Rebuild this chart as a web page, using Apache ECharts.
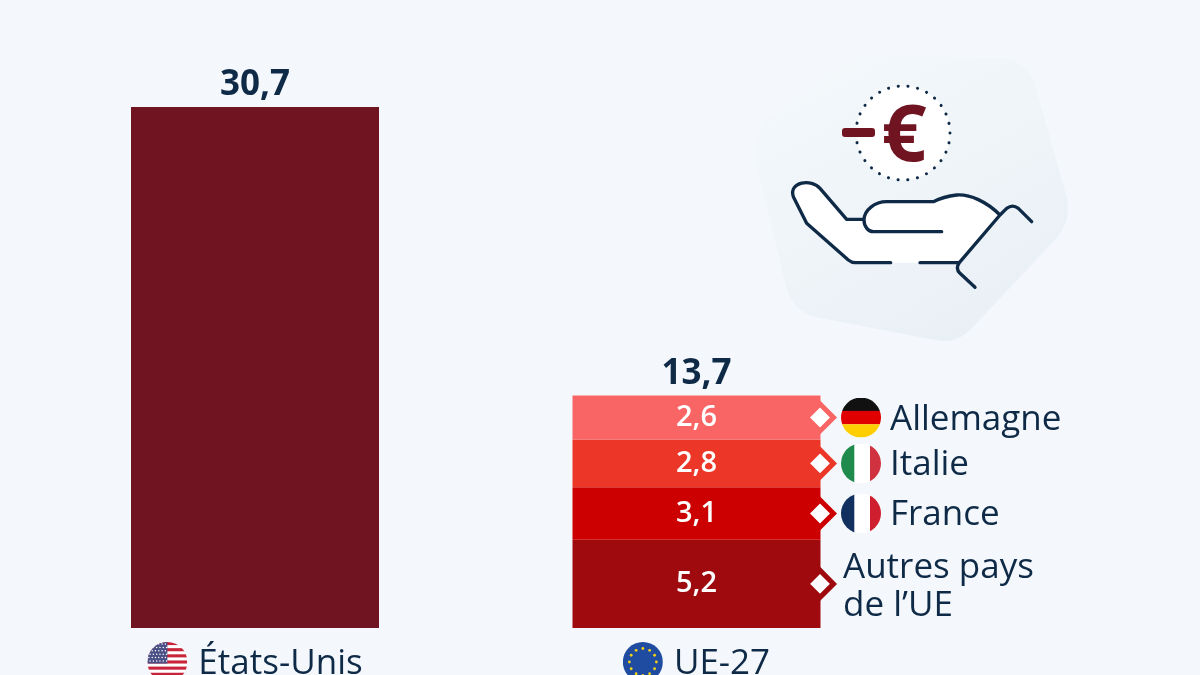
<!DOCTYPE html>
<html><head><meta charset="utf-8">
<style>html,body{margin:0;padding:0;background:#f4f8fc;overflow:hidden}#c{width:1200px;height:675px}</style>
<script src="https://cdn.jsdelivr.net/npm/echarts@6/dist/echarts.min.js"></script>
</head><body><div id="c"></div>
<script>
const categories = ['États-Unis', 'UE-27'];
const totals = [30.7, 13.7];
const usValues = [30.7, null];
const segmentNames = ['Autres pays\nde l’UE', 'France', 'Italie', 'Allemagne'];
const segmentValues = [5.2, 3.1, 2.8, 2.6];
const segmentColors = ['#9e0a0e', '#cc0000', '#ec3728', '#f96464'];

const ink = '#0f2a47';
const font = '"Open Sans"';
const fr = v => String(v).replace('.', ',');

function svg(body) {
  return 'data:image/svg+xml;charset=utf-8,' + encodeURIComponent(
    '<svg xmlns="http://www.w3.org/2000/svg" width="160" height="160" viewBox="0 0 40 40"><defs><clipPath id="k"><circle cx="20" cy="20" r="20"/></clipPath></defs><g clip-path="url(#k)">' + body + '</g></svg>');
}
function stars(cx, cy, r, n, size, col) {
  let s = '';
  for (let i = 0; i < n; i++) {
    const a = i / n * 2 * Math.PI;
    s += '<circle cx="' + (cx + r * Math.cos(a)) + '" cy="' + (cy + r * Math.sin(a)) + '" r="' + size + '" fill="' + col + '"/>';
  }
  return s;
}
function usFlag() {
  let s = '<rect width="40" height="40" fill="#fff"/>';
  for (let i = 0; i < 7; i++) s += '<rect y="' + (i * 6.15) + '" width="40" height="3.08" fill="#c8243a"/>';
  s += '<rect width="20" height="21.5" fill="#4a4f86"/>';
  for (let r = 0; r < 6; r++) for (let c = 0; c < 6; c++)
    s += '<circle cx="' + (1.5 + c * 3.3 + (r % 2) * 1.2) + '" cy="' + (2 + r * 3.4) + '" r=".75" fill="#fff"/>';
  return svg(s);
}
const flags = {
  us: usFlag(),
  eu: svg('<rect width="40" height="40" fill="#1f4ba0"/>' + stars(20, 20, 13.5, 12, 1.4, '#f7d117')),
  de: svg('<rect width="40" height="14" fill="#111"/><rect y="13.3" width="40" height="13.4" fill="#e00000"/><rect y="26.7" width="40" height="14" fill="#ffce00"/>'),
  it: svg('<rect width="40" height="40" fill="#fff"/><rect width="13.3" height="40" fill="#1e8a4c"/><rect x="29" width="11" height="40" fill="#d1323f"/>'),
  fr: svg('<rect width="40" height="40" fill="#fff"/><rect width="13.3" height="40" fill="#12305f"/><rect x="29" width="11" height="40" fill="#cf1f2e"/>')
};
const flagKey = { 'États-Unis': 'us', 'UE-27': 'eu', 'Allemagne': 'de', 'Italie': 'it', 'France': 'fr' };
const richFlags = {};
Object.keys(flags).forEach(k => {
  richFlags[k] = { width: 40, height: 40, backgroundColor: { image: flags[k] } };
});
const nameStyle = { fontFamily: font, fontSize: 35, color: ink };

let cum = 0;
const mids = segmentValues.map(v => { const m = cum + v / 2; cum += v; return m; });

const series = [
  {
    type: 'bar', stack: 's', data: usValues, barWidth: 248, silent: true,
    itemStyle: { color: '#6f1420' }
  }
];
segmentNames.forEach((n, i) => {
  series.push({
    type: 'bar', stack: 's', name: n, barWidth: 248, silent: true,
    data: [null, segmentValues[i]],
    itemStyle: { color: segmentColors[i] },
    label: {
      show: true, position: 'inside', formatter: p => fr(p.value),
      fontFamily: font, fontSize: 29, fontWeight: 600, color: '#fff'
    }
  });
});
segmentNames.forEach((n, i) => {
  const key = flagKey[n];
  series.push({
    type: 'scatter', silent: true, z: 5,
    symbol: 'diamond', symbolSize: 27, symbolOffset: [123.5, 0],
    itemStyle: { color: '#fff', borderColor: segmentColors[i], borderWidth: 5, opacity: 1 },
    data: [[categories[1], mids[i]]],
    label: {
      show: true, position: 'right', distance: key ? 5 : 7, align: 'left',
      offset: key ? [0, 0] : [0, 3],
      formatter: key ? '{' + key + '|}{n|' + n + '}' : '{a|' + n.split('\n').join('}\n{a|') + '}',
      rich: Object.assign({}, richFlags, {
        n: Object.assign({}, nameStyle, { padding: [4, 0, 0, 9] }),
        a: Object.assign({}, nameStyle, { lineHeight: 38 })
      })
    }
  });
});
series.push({
  type: 'scatter', silent: true, symbolSize: 0, z: 6,
  itemStyle: { opacity: 1 },
  data: categories.map((c, i) => [c, totals[i]]),
  label: {
    show: true, position: 'top', distance: 4,
    formatter: p => fr(p.value[1]),
    fontFamily: font, fontSize: 35, fontWeight: 700, color: ink
  }
});

echarts.graphic.registerShape('blobShape', echarts.graphic.extendPath('M768,118 Q752,135 757,165 L787,290 Q793,310 815,317 L935,340 Q955,345 970,330 L1055,240 Q1072,220 1067,198 L1035,85 Q1028,60 1000,58 L880,55 Q850,55 830,72 Z'));
echarts.graphic.registerShape('handFill', echarts.graphic.extendPath('M155,455 C155,425 215,415 240,445 L320,538 L372,538 C375,505 405,485 440,485 L580,485 Q610,470 650,465 C690,462 740,485 780,525 L658,668 L345,668 Q335,668 325,660 L200,550 Z'));
echarts.graphic.registerShape('handLine', echarts.graphic.extendPath('M452,668 L345,668 Q335,668 325,660 L200,550 L160,470 C145,425 215,415 240,445 L320,538 L372,538 M605,575 L400,575 C385,575 372,560 372,540 C372,510 405,485 440,485 L580,485 Q610,470 650,465 C690,462 740,485 780,525 L658,668 L540,668 M780,525 L800,505 Q818,492 835,505 L875,545 M658,668 Q645,685 660,700 L705,742'));

const chart = echarts.init(document.getElementById('c'), null, { width: 1200, height: 675 });
chart.setOption({
  animation: false,
  backgroundColor: '#f4f8fc',
  grid: { left: 34.25, width: 883, top: 107, bottom: 47, outerBoundsMode: 'none' },
  xAxis: {
    type: 'category', data: categories,
    axisLine: { show: false }, axisTick: { show: false },
    axisLabel: {
      margin: 14, interval: 0, hideOverlap: false,
      formatter: v => '{' + flagKey[v] + '|}{n|' + v + '}',
      rich: Object.assign({}, richFlags, { n: Object.assign({}, nameStyle, { padding: [4, 0, 0, 11] }) })
    }
  },
  yAxis: { type: 'value', min: 0, max: 30.7, show: false, splitLine: { show: false } },
  series,
  graphic: [
    {
      type: 'blobShape', z: 0, silent: true,
      style: {
        fill: new echarts.graphic.LinearGradient(0.2, 0, 0.7, 1, [{ offset: 0, color: '#f4f8fb' }, { offset: 1, color: '#e9f0f5' }]),
        stroke: 'none'
      }
    },
    { type: 'circle', silent: true, shape: { cx: 903, cy: 133, r: 47 },
      style: { fill: '#fff', stroke: ink, lineWidth: 3, lineDash: [0.1, 9.73], lineCap: 'round' } },
    { type: 'rect', silent: true, z: 3, shape: { x: 842, y: 128, width: 33, height: 9, r: 3 }, style: { fill: '#6f1420' } },
    { type: 'text', silent: true, z: 3, style: { text: '€', x: 904, y: 138, align: 'center', verticalAlign: 'middle', font: '700 79px "Open Sans"', fill: '#6f1420' } },
    {
      type: 'group', x: 740, y: 40, scaleX: 1 / 3, scaleY: 1 / 3, silent: true,
      children: [
        { type: 'handFill', silent: true, style: { fill: '#fff', stroke: 'none' } },
        { type: 'handLine', silent: true, style: { fill: 'none', stroke: ink, lineWidth: 10, lineCap: 'round', lineJoin: 'round' } }
      ]
    }
  ]
});
</script></body></html>
